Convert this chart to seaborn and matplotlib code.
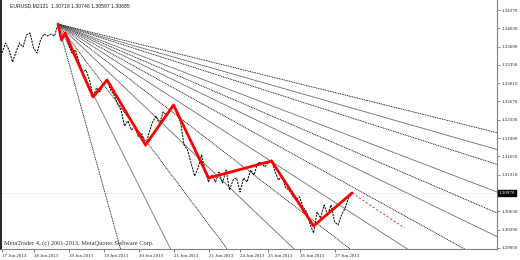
import matplotlib
matplotlib.use("Agg")
import matplotlib.pyplot as plt
import numpy as np
import pandas as pd
import seaborn as sns
from matplotlib.transforms import blended_transform_factory

# ---------------- data ----------------
close = [1.33571, 1.33757, 1.33627, 1.33404, 1.33590, 1.33757, 1.33683, 1.33906,
         1.33943, 1.33664, 1.33571, 1.33813, 1.33924, 1.33887, 1.33924, 1.33887,
         1.34110, 1.33813, 1.33943, 1.33720, 1.33571, 1.33627, 1.33404, 1.33218,
         1.33255, 1.33069, 1.32754, 1.32921, 1.32846, 1.32995, 1.33069, 1.32884,
         1.32791, 1.32624, 1.32512, 1.32215, 1.32308, 1.32140, 1.32196, 1.32010,
         1.32066, 1.31843, 1.32085, 1.32289, 1.32401, 1.32252, 1.32475, 1.32419,
         1.32512, 1.32605, 1.32438, 1.32289, 1.31862, 1.31769, 1.31527, 1.31286,
         1.31434, 1.31676, 1.31397, 1.31174, 1.31304, 1.31174, 1.31360, 1.31156,
         1.31397, 1.31026, 1.31211, 1.31249, 1.30988, 1.31249, 1.31174, 1.31397,
         1.31304, 1.31527, 1.31546, 1.31453, 1.31527, 1.31583, 1.31360, 1.31211,
         1.31286, 1.31063, 1.31026, 1.30914, 1.30840, 1.30896, 1.30710, 1.30617,
         1.30394, 1.30227, 1.30617, 1.30505, 1.30747, 1.30561, 1.30747, 1.30431,
         1.30375, 1.30561, 1.30691, 1.30877, 1.30970]
bars = list(range(len(close)))

zz_bars = [16, 17, 18, 26, 30, 41, 49, 59, 77, 89, 100]
zz_price = [1.34110, 1.33813, 1.33943, 1.32754, 1.33069, 1.31862, 1.32605,
            1.31249, 1.31564, 1.30357, 1.30970]

proj_bars = [100, 115]
proj_price = [1.30970, 1.30320]

# fan slopes in pips per bar, from the swing high
fan_pips_per_bar = [23.4, 13.0, 8.65, 6.20, 5.01, 4.19, 3.60, 3.15, 2.80,
                    2.49, 2.08, 1.86, 1.61]

date_bars = [0, 9, 19, 29, 39, 49, 59, 68, 76, 85, 95]
date_labels = ["17 Jun 2013", "18 Jun 2013", "19 Jun 2013", "19 Jun 2013",
               "20 Jun 2013", "21 Jun 2013", "21 Jun 2013", "24 Jun 2013",
               "25 Jun 2013", "26 Jun 2013", "27 Jun 2013"]

price_ticks = [1.34370, 1.34030, 1.33690, 1.33350, 1.33010, 1.32670, 1.32330,
               1.31990, 1.31650, 1.31310, 1.30970, 1.30630, 1.30290, 1.29950]

title_text = "EURUSD,M2121  1.30718 1.30746 1.30597 1.30685"
copyright_text = "MetaTrader 4, (c) 2001-2013, MetaQuotes Software Corp."

# ---------------- style ----------------
sns.set_style("white")
plt.rcParams['font.family'] = ['Liberation Serif', 'DejaVu Sans']

fig = plt.figure(figsize=(5.2, 2.6), dpi=100)
ax = fig.add_axes([1 / 520, 11 / 260, 496 / 520, 249 / 260])

xmin, xmax = -0.29, 141.4
ymin, ymax = 1.29929, 1.34556

# bid line
last = close[-1]
ax.axhline(last, color='#e2d2d2', lw=0.5, ls=(0, (1, 1)), zorder=1)

# fan lines
ox = bars[int(np.argmax(close))]
oy = max(close)
for i, s in enumerate(fan_pips_per_bar):
    fx = [ox, xmax + 2]
    fy = [oy - s * 1e-4 * (x - ox) for x in fx]
    df = pd.DataFrame({"x": fx, "y": fy})
    if i % 2 == 0:
        sns.lineplot(data=df, x="x", y="y", ax=ax, color='black', lw=0.6,
                     linestyle=(0, (1.2, 0.9)), zorder=2)
    else:
        sns.lineplot(data=df, x="x", y="y", ax=ax, color='#6e6e6e', lw=0.6,
                     zorder=2)

# price line
dfp = pd.DataFrame({"bar": bars, "close": close})
sns.lineplot(data=dfp, x="bar", y="close", ax=ax, color='black', lw=0.7,
             linestyle=(0, (2.2, 1.0)), zorder=3)

# zigzag
dfz = pd.DataFrame({"bar": zz_bars, "price": zz_price})
sns.lineplot(data=dfz, x="bar", y="price", ax=ax, color='#ff0000', lw=2.0,
             zorder=4)
dfj = pd.DataFrame({"bar": proj_bars, "price": proj_price})
sns.lineplot(data=dfj, x="bar", y="price", ax=ax, color='#ff0000', lw=0.6,
             linestyle=(0, (2.5, 2.5)), zorder=4)

ax.set_xlim(xmin, xmax)
ax.set_ylim(ymin, ymax)
ax.set_xlabel("")
ax.set_ylabel("")

# axes / spines
ax.spines['top'].set_visible(False)
ax.spines['left'].set_color('black')
ax.spines['left'].set_linewidth(1.2)
ax.spines['bottom'].set_color('#808080')
ax.spines['bottom'].set_linewidth(0.8)
ax.spines['right'].set_color('#808080')
ax.spines['right'].set_linewidth(0.8)

ax.yaxis.tick_right()
ax.set_yticks(price_ticks)
ylabels = ["" if abs(p - last) < 0.0015 else f"{p:.5f}" for p in price_ticks]
ax.set_yticklabels(ylabels)
ax.tick_params(axis='y', which='both', right=True, left=False, labelright=True,
               labelleft=False, length=2, width=0.5, color='#606060', pad=1.2,
               labelsize=3.6, labelcolor='#1a1a40')

ax.set_xticks(date_bars)
ax.set_xticklabels(date_labels)
ax.tick_params(axis='x', which='both', bottom=True, length=2.5, width=0.5,
               color='#404040', pad=0.8, labelsize=3.5, labelcolor='#1a1a40')
for lab in ax.get_xticklabels():
    lab.set_horizontalalignment('left')

# current price box
trans = blended_transform_factory(ax.transAxes, ax.transData)
ax.text(1.004, last, f"{last:.5f}", transform=trans, color='white',
        fontsize=3.6, va='center', ha='left', clip_on=False,
        bbox=dict(facecolor='black', edgecolor='black', pad=0.5), zorder=6)

# texts
ax.text(0.018, 0.975, title_text, transform=ax.transAxes, fontsize=3.7,
        family=['Liberation Sans', 'DejaVu Sans'], color='#1a1a40',
        va='center', ha='left')
ax.text(0.006, 0.025, copyright_text, transform=ax.transAxes, fontsize=4.6,
        color='#303050', va='center', ha='left')

fig.savefig("out.png", dpi=100)
